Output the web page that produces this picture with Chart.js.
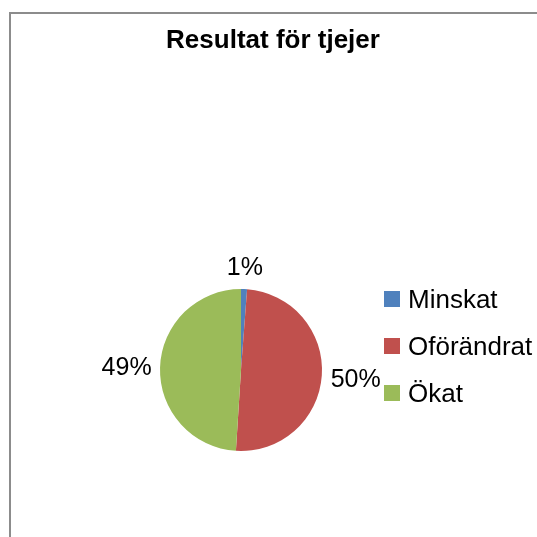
<!DOCTYPE html>
<html>
<head>
<meta charset="utf-8">
<script src="https://cdn.jsdelivr.net/npm/chart.js@4.4.0/dist/chart.umd.min.js"></script>
<style>
  html, body { margin: 0; padding: 0; background: #fff; overflow: hidden; }
  #frame { position: absolute; left: 9px; top: 12px; width: 600px; height: 600px;
           border-left: 2px solid #8c8c8c; border-top: 2px solid #8c8c8c; }
  #wrap { position: absolute; left: 0; top: 0; width: 537px; height: 537px; }
</style>
</head>
<body>
<div id="frame"></div>
<div id="wrap"><canvas id="pieChart" width="537" height="537"></canvas></div>
<script>
const chartTitle = 'Resultat för tjejer';
const categories = ['Minskat', 'Oförändrat', 'Ökat'];
const shares = [1.2, 49.8, 49.0];
const shareLabels = ['1%', '50%', '49%'];
const colors = ['#4F81BD', '#C0504D', '#9BBB59'];

const FONT = "'Liberation Sans', Arial, sans-serif";

// title, data labels outside each slice, legend on the right
const pieExtras = {
    id: 'pieExtras',
    afterDatasetsDraw(chart) {
        const ctx = chart.ctx;
        const arcs = chart.getDatasetMeta(0).data;
        ctx.save();
        ctx.fillStyle = '#000';
        ctx.textBaseline = 'alphabetic';

        ctx.font = 'bold 26px ' + FONT;
        ctx.textAlign = 'center';
        ctx.fillText(chartTitle, 273, 48);

        ctx.font = '25px ' + FONT;
        arcs.forEach((arc, i) => {
            const mid = (arc.startAngle + arc.endAngle) / 2;
            const dx = Math.cos(mid), dy = Math.sin(mid);
            const w = ctx.measureText(shareLabels[i]).width;
            const dist = arc.outerRadius + 8 + Math.abs(dx) * w / 2 + Math.abs(dy) * 14;
            ctx.fillText(shareLabels[i], arc.x + dx * dist, arc.y + dy * dist + 9);
        });

        ctx.font = '26px ' + FONT;
        ctx.textAlign = 'left';
        const lx = 384, ly = 299, step = 47;
        categories.forEach((name, i) => {
            const y = ly + i * step;
            ctx.fillStyle = colors[i];
            ctx.fillRect(lx, y - 8, 16, 16);
            ctx.fillStyle = '#000';
            ctx.fillText(name, lx + 24, y + 9);
        });
        ctx.restore();
    }
};

new Chart(document.getElementById('pieChart').getContext('2d'), {
    type: 'pie',
    data: {
        labels: categories,
        datasets: [{
            data: shares,
            backgroundColor: colors,
            borderWidth: 0
        }]
    },
    options: {
        responsive: false,
        animation: false,
        layout: { padding: { left: 160, right: 215, top: 289, bottom: 86 } },
        plugins: {
            legend: { display: false },
            tooltip: { enabled: false },
            title: { display: false }
        }
    },
    plugins: [pieExtras]
});
</script>
</body>
</html>
